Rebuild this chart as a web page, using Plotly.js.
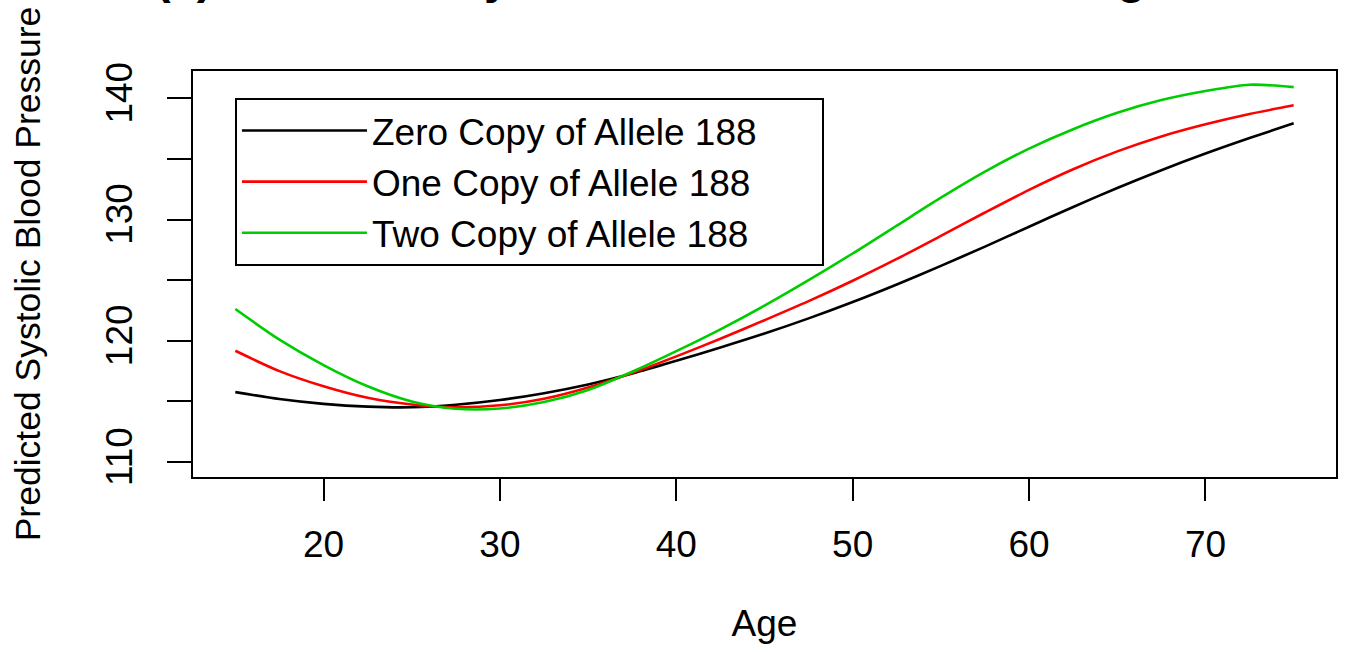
<!DOCTYPE html>
<html>
<head>
<meta charset="utf-8">
<script src="https://cdn.plot.ly/plotly-3.0.1.min.js"></script>
<style>
  html, body { margin: 0; padding: 0; background: #ffffff; }
  #chart { width: 1346px; height: 652px; }
</style>
</head>
<body>
<div id="chart"></div>
<script>
// Ages at which the predicted curves were read
const ages = [15, 17.5, 20, 22.5, 25, 27.5, 30, 32.5, 35, 37.5, 40, 42.5, 45,
              47.5, 50, 52.5, 55, 57.5, 60, 62.5, 65, 67.5, 70, 72.5, 75];

// Predicted systolic blood pressure by number of copies of allele 188
const zeroCopy = [115.77, 115.2, 114.8, 114.57, 114.52, 114.73, 115.12, 115.68, 116.4, 117.3,
                  118.35, 119.45, 120.6, 121.85, 123.2, 124.65, 126.18, 127.77, 129.41, 131.04,
                  132.6, 134.07, 135.44, 136.72, 137.94];
const oneCopy  = [119.18, 117.5, 116.25, 115.3, 114.75, 114.52, 114.68, 115.22, 116.15, 117.35,
                  118.72, 120.17, 121.7, 123.27, 124.95, 126.75, 128.65, 130.58, 132.45, 134.15,
                  135.62, 136.85, 137.85, 138.7, 139.42];
const twoCopy  = [122.62, 120.1, 118.0, 116.25, 115.0, 114.4, 114.42, 114.95, 115.95, 117.45,
                  119.15, 120.95, 122.9, 125.0, 127.2, 129.5, 131.8, 133.95, 135.85, 137.45,
                  138.8, 139.85, 140.6, 141.12, 140.92];

const seriesNames = ["Zero Copy of Allele 188", "One Copy of Allele 188", "Two Copy of Allele 188"];
const seriesColors = ["#000000", "#FF0000", "#00CD00"];

const xTickVals = [20, 30, 40, 50, 60, 70];
const yTickVals = [110, 115, 120, 125, 130, 135, 140];
const yTickText = ["110", "", "120", "", "130", "", "140"];

const titleText = "(a) Predicted Systolic Blood Pressure vs. Age";
const xTitle = "Age";
const yTitle = "Predicted Systolic Blood Pressure";

const FONT = "Liberation Sans, Arial, Helvetica, sans-serif";

const traces = [zeroCopy, oneCopy, twoCopy].map((vals, i) => ({
  x: ages,
  y: vals,
  type: "scatter",
  mode: "lines",
  name: seriesNames[i],
  line: { color: seriesColors[i], width: 2.6, shape: "spline", smoothing: 0.8 }
}));

const layout = {
  width: 1346,
  height: 652,
  paper_bgcolor: "#ffffff",
  plot_bgcolor: "#ffffff",
  margin: { l: 193, r: 10, t: 71, b: 175, pad: 0 },
  font: { family: FONT, color: "#000000", size: 37 },
  title: {
    text: titleText,
    font: { family: FONT, size: 47, color: "#000000", weight: "bold" },
    xref: "container", yref: "container",
    x: 155 / 1346, xanchor: "left",
    y: 1, yanchor: "bottom",
    pad: { t: 0, b: 7, l: 0, r: 0 }
  },
  showlegend: true,
  legend: {
    orientation: "h",
    entrywidth: 445,
    entrywidthmode: "pixels",
    x: 0.0367, y: 0.9335, xanchor: "left", yanchor: "top",
    xref: "paper", yref: "paper",
    bgcolor: "#ffffff",
    bordercolor: "#000000",
    borderwidth: 2,
    font: { family: FONT, size: 37, color: "#000000" },
    itemwidth: 125,
    tracegroupgap: 0
  },
  xaxis: {
    range: [12.6, 77.4],
    tickmode: "array",
    tickvals: xTickVals,
    ticks: "outside",
    ticklen: 22,
    tickwidth: 2,
    tickcolor: "#000000",
    ticklabelstandoff: 12,
    showline: true,
    linecolor: "#000000",
    linewidth: 2,
    mirror: true,
    showgrid: false,
    zeroline: false,
    tickfont: { family: FONT, size: 37, color: "#000000" },
    title: { text: xTitle, font: { family: FONT, size: 37, color: "#000000" }, standoff: 46 },
    automargin: false
  },
  yaxis: {
    range: [108.77, 142.25],
    tickmode: "array",
    tickvals: yTickVals,
    ticktext: yTickText,
    tickangle: -90,
    ticks: "outside",
    ticklen: 24,
    tickwidth: 2,
    tickcolor: "#000000",
    ticklabelstandoff: 20,
    showline: true,
    linecolor: "#000000",
    linewidth: 2,
    mirror: true,
    showgrid: false,
    zeroline: false,
    tickfont: { family: FONT, size: 37, color: "#000000" },
    title: { text: yTitle, font: { family: FONT, size: 35.5, color: "#000000" }, standoff: 48 },
    automargin: false
  }
};

Plotly.newPlot("chart", traces, layout, { staticPlot: true, displayModeBar: false });
</script>
</body>
</html>
